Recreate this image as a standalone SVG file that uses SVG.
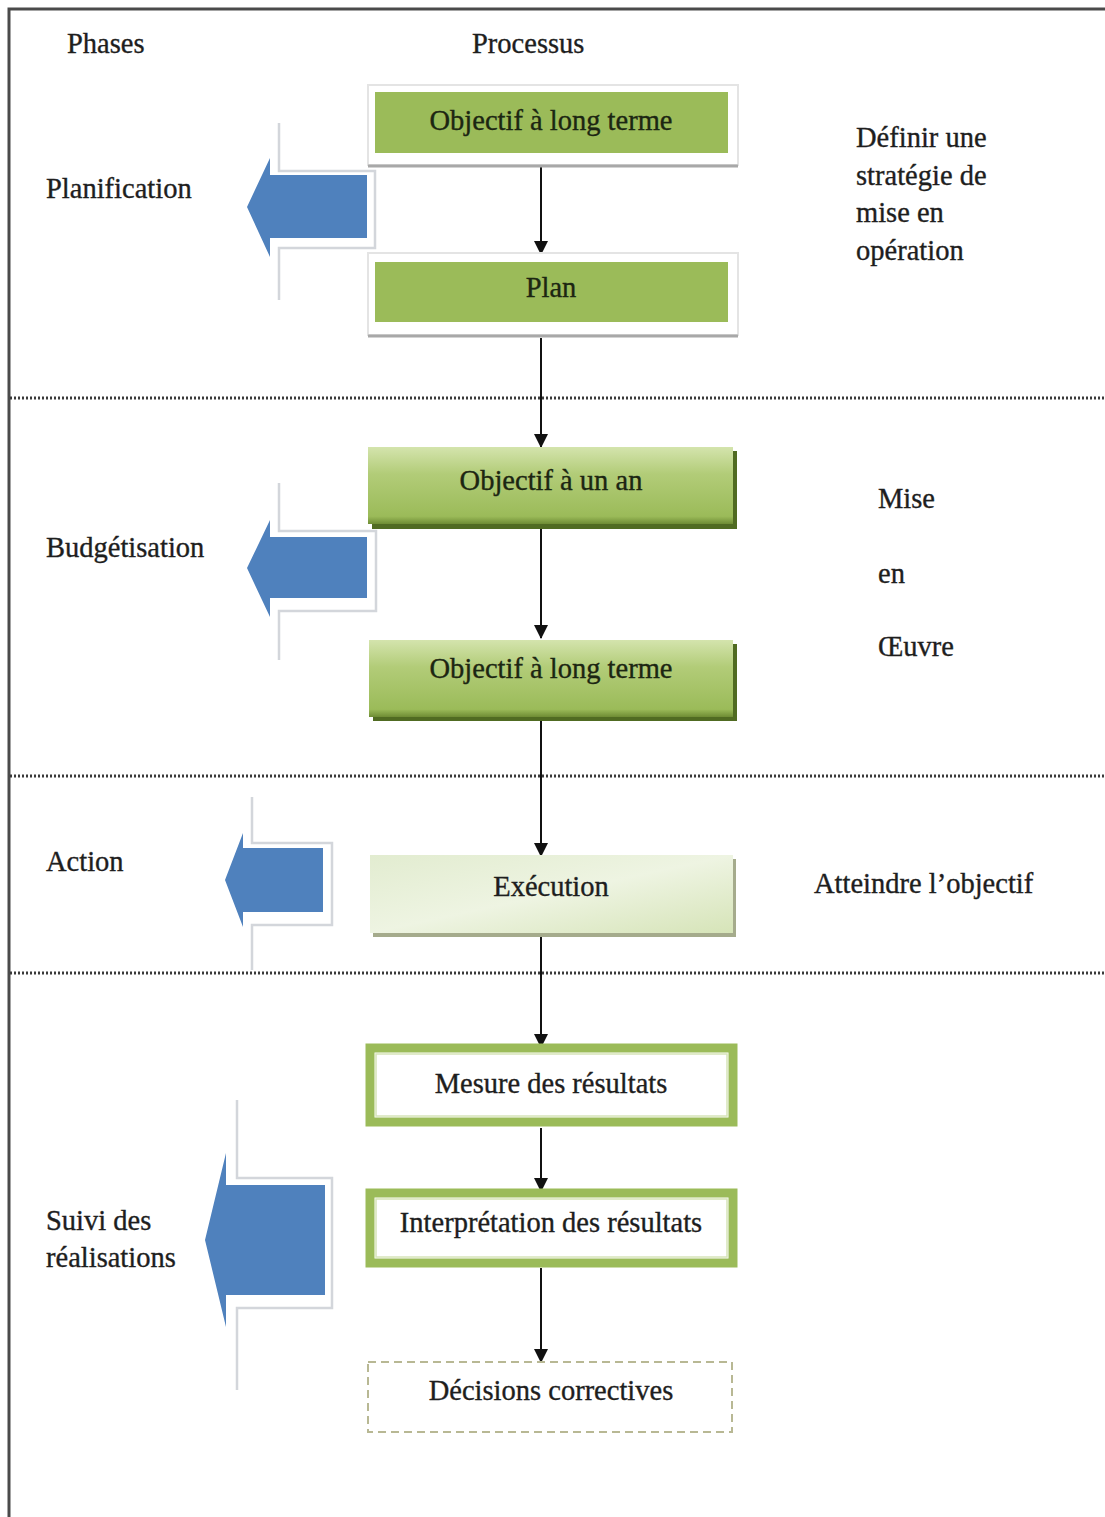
<svg xmlns="http://www.w3.org/2000/svg" width="1105" height="1517" viewBox="0 0 1105 1517">
  <defs>
    <linearGradient id="gBudget" x1="0" y1="0" x2="0" y2="1">
      <stop offset="0" stop-color="#d4e4ad"/>
      <stop offset="0.35" stop-color="#b2cc78"/>
      <stop offset="0.9" stop-color="#9bbb59"/>
      <stop offset="1" stop-color="#6e8c34"/>
    </linearGradient>
    <linearGradient id="gExec" x1="0" y1="0" x2="1" y2="1">
      <stop offset="0" stop-color="#e2ecd0"/>
      <stop offset="0.5" stop-color="#eef4e2"/>
      <stop offset="1" stop-color="#d6e4b8"/>
    </linearGradient>
    <marker id="head" markerWidth="14" markerHeight="16" refX="13" refY="8" orient="auto" markerUnits="userSpaceOnUse">
      <path d="M0,1 L14,8 L0,15 Z" fill="#111"/>
    </marker>
  </defs>
  <style>
    text { font-family: "Liberation Serif", "DejaVu Serif", serif; font-size: 28.5px; fill: #1e1e1e; stroke: #1e1e1e; stroke-width: 0.35; }
    .mid { text-anchor: middle; }
    .ink { fill: #1c2612; stroke: #1c2612; }
    .frame { stroke: #4a4a4a; stroke-width: 3; fill: none; }
    .divider { stroke: #3a3a3a; stroke-width: 3; stroke-dasharray: 2 2; fill: none; }
    .conn { stroke: #111; stroke-width: 2; fill: none; marker-end: url(#head); }
    .blue { fill: #4f81bd; }
    .ghost { stroke: #d3d6db; stroke-width: 2.5; fill: none; }
    .flat { fill: #9bbb59; }
    .halo { fill: #ffffff; stroke: #e4e4e4; stroke-width: 2; }
    .ring { fill: #ffffff; stroke: #9bbb59; stroke-width: 9; }
    .inner { fill: none; stroke: #d6e4b8; stroke-width: 1.5; }
    .dash { fill: #ffffff; stroke: #b8b894; stroke-width: 2; stroke-dasharray: 8 5; }
  </style>

  <!-- outer frame (top and left edges) -->
  <path class="frame" d="M9,1517 L9,9 L1105,9"/>

  <!-- phase separators -->
  <g id="separators">
    <line class="divider" x1="10" y1="398" x2="1105" y2="398"/>
    <line class="divider" x1="10" y1="776" x2="1105" y2="776"/>
    <line class="divider" x1="10" y1="973" x2="1105" y2="973"/>
  </g>

  <!-- column headings -->
  <text x="67" y="53">Phases</text>
  <text x="472" y="53">Processus</text>

  <!-- phase labels -->
  <g id="phase-planification">
    <path class="ghost" d="M279,123 L279,171 L375,171 L375,248 L279,248 L279,300"/>
    <path class="blue" d="M247,207 L270,158 L270,175 L367,175 L367,238 L270,238 L270,257 Z"/>
    <text x="46" y="198">Planification</text>
  </g>
  <g id="phase-budgetisation">
    <path class="ghost" d="M279,483 L279,531 L376,531 L376,611 L279,611 L279,660"/>
    <path class="blue" d="M247,568 L270,520 L270,537 L367,537 L367,598 L270,598 L270,617 Z"/>
    <text x="46" y="557">Budgétisation</text>
  </g>
  <g id="phase-action">
    <path class="ghost" d="M252,797 L252,843 L332,843 L332,925 L252,925 L252,970"/>
    <path class="blue" d="M225,880 L243,833 L243,848 L323,848 L323,912 L243,912 L243,927 Z"/>
    <text x="46" y="871">Action</text>
  </g>
  <g id="phase-suivi">
    <path class="ghost" d="M237,1100 L237,1178 L332,1178 L332,1308 L237,1308 L237,1390"/>
    <path class="blue" d="M205,1240 L226,1153 L226,1185 L325,1185 L325,1295 L226,1295 L226,1327 Z"/>
    <text x="46" y="1230">Suivi des</text>
    <text x="46" y="1267">réalisations</text>
  </g>

  <!-- right-hand notes -->
  <g id="note-strategie">
    <text x="856" y="147">Définir une</text>
    <text x="856" y="185">stratégie de</text>
    <text x="856" y="222">mise en</text>
    <text x="856" y="260">opération</text>
  </g>
  <g id="note-mise-en-oeuvre">
    <text x="878" y="508">Mise</text>
    <text x="878" y="583">en</text>
    <text x="878" y="656">Œuvre</text>
  </g>
  <g id="note-objectif">
    <text x="814" y="893">Atteindre l’objectif</text>
  </g>

  <!-- connectors -->
  <g id="connectors">
    <line class="conn" x1="541" y1="157" x2="541" y2="254"/>
    <line class="conn" x1="541" y1="338" x2="541" y2="447"/>
    <line class="conn" x1="541" y1="522" x2="541" y2="638"/>
    <line class="conn" x1="541" y1="718" x2="541" y2="856"/>
    <line class="conn" x1="541" y1="934" x2="541" y2="1047"/>
    <line class="conn" x1="541" y1="1128" x2="541" y2="1191"/>
    <line class="conn" x1="541" y1="1268" x2="541" y2="1362"/>
  </g>

  <!-- process nodes -->
  <g id="node-objectif-long-1">
    <rect class="halo" x="368" y="85" width="370" height="80"/>
    <line x1="368" y1="166" x2="738" y2="166" stroke="#a8a8a8" stroke-width="3"/>
    <rect class="flat" x="375" y="92" width="353" height="61"/>
    <text class="mid ink" x="551" y="130">Objectif à long terme</text>
  </g>
  <g id="node-plan">
    <rect class="halo" x="368" y="253" width="370" height="82"/>
    <line x1="368" y1="336" x2="738" y2="336" stroke="#a8a8a8" stroke-width="3"/>
    <rect class="flat" x="375" y="262" width="353" height="60"/>
    <text class="mid ink" x="551" y="297">Plan</text>
  </g>
  <g id="node-objectif-an">
    <rect x="372" y="451" width="365" height="78" fill="#506b22"/>
    <rect x="368" y="447" width="365" height="77" fill="url(#gBudget)"/>
    <text class="mid ink" x="551" y="490">Objectif à un an</text>
  </g>
  <g id="node-objectif-long-2">
    <rect x="373" y="644" width="364" height="77" fill="#506b22"/>
    <rect x="369" y="640" width="364" height="77" fill="url(#gBudget)"/>
    <text class="mid ink" x="551" y="678">Objectif à long terme</text>
  </g>
  <g id="node-execution">
    <rect x="373" y="859" width="363" height="78" fill="#a5ab8c"/>
    <rect x="370" y="855" width="363" height="78" fill="url(#gExec)"/>
    <text class="mid" x="551" y="896">Exécution</text>
  </g>
  <g id="node-mesure">
    <rect class="ring" x="370" y="1048" width="363" height="74"/>
    <rect class="inner" x="376" y="1054" width="351" height="62"/>
    <text class="mid" x="551" y="1093">Mesure des résultats</text>
  </g>
  <g id="node-interpretation">
    <rect class="ring" x="370" y="1193" width="363" height="70"/>
    <rect class="inner" x="376" y="1199" width="351" height="58"/>
    <text class="mid" x="551" y="1232">Interprétation des résultats</text>
  </g>
  <g id="node-decisions">
    <rect class="dash" x="368" y="1362" width="364" height="70"/>
    <text class="mid" x="551" y="1400">Décisions correctives</text>
  </g>
</svg>
